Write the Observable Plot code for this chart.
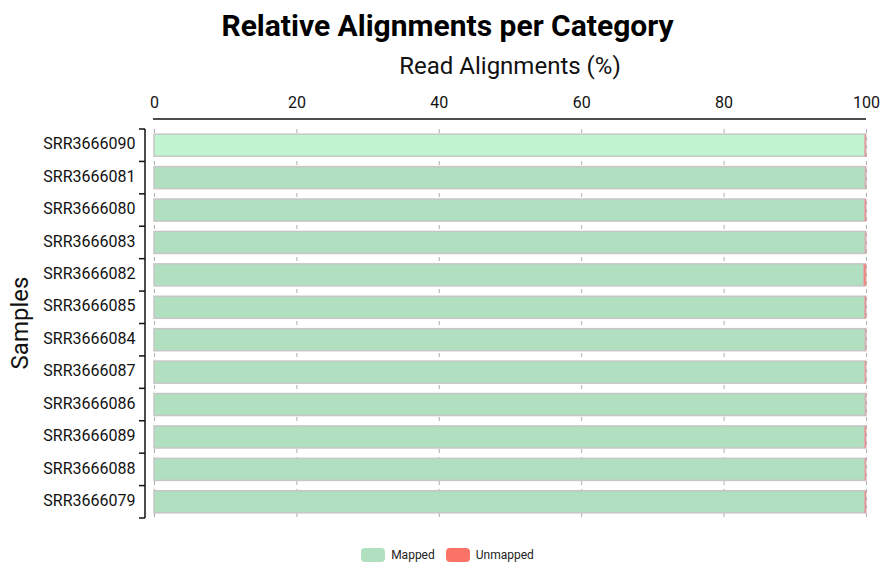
<!DOCTYPE html>
<html>
<head>
<meta charset="utf-8">
<script src="https://cdn.jsdelivr.net/npm/d3@7"></script>
<script src="https://cdn.jsdelivr.net/npm/@observablehq/plot@0.6"></script>
<style>
  html, body { margin: 0; padding: 0; background: #fff; }
  body { font-family: Roboto, "Noto Sans", sans-serif; color: #111; }
  #wrap { position: relative; width: 895px; height: 569px; overflow: hidden; }
  #title { position: absolute; left: 0; width: 895px; top: 8px; text-align: center; font-weight: bold; font-size: 30px; color: #000; }
  #xlabel { position: absolute; left: 154px; width: 712px; top: 52px; text-align: center; font-size: 24px; color: #111; }
  #ylabel { position: absolute; left: 20px; top: 323px; transform: translate(-50%, -50%) rotate(-90deg); font-size: 24px; white-space: nowrap; color: #111; }
  #legend { position: absolute; left: 0; width: 895px; top: 548px; display: flex; justify-content: center; gap: 11px; font-size: 12px; color: #222; }
  .item { display: flex; align-items: center; gap: 6px; }
  .sw { width: 24px; height: 14px; border-radius: 4px; display: inline-block; }
  #chart { position: absolute; left: 0; top: 0; }
</style>
</head>
<body>
<div id="wrap">
  <div id="chart"></div>
  <div id="title">Relative Alignments per Category</div>
  <div id="xlabel">Read Alignments (%)</div>
  <div id="ylabel">Samples</div>
  <div id="legend"></div>
</div>
<script>
const samples = ["SRR3666090","SRR3666081","SRR3666080","SRR3666083","SRR3666082","SRR3666085","SRR3666084","SRR3666087","SRR3666086","SRR3666089","SRR3666088","SRR3666079"];
const mappedPct = [99.85, 99.9, 99.8, 99.88, 99.7, 99.82, 99.9, 99.85, 99.9, 99.8, 99.85, 99.82];
const unmappedPct = [0.15, 0.1, 0.2, 0.12, 0.3, 0.18, 0.1, 0.15, 0.1, 0.2, 0.15, 0.18];
const xTicks = [0, 20, 40, 60, 80, 100];
const categories = ["Mapped", "Unmapped"];
const colors = ["#b0e0bf", "#fb7267"];
const highlighted = "SRR3666090";
const highlightColor = "#c1f5d1";

const rows = samples.map((s, i) => ({sample: s, mapped: mappedPct[i], unmapped: unmappedPct[i]}));

const padIn = 0.32;
const plot = Plot.plot({
  width: 895,
  height: 569,
  marginTop: 129,
  marginBottom: 51,
  marginLeft: 154,
  marginRight: 29,
  style: {fontFamily: "Roboto, sans-serif", color: "#111", background: "transparent"},
  x: {domain: [0, 100], axis: null},
  y: {domain: samples, paddingInner: padIn, paddingOuter: padIn / 2, round: false, axis: null},
  marks: [
    Plot.gridX(xTicks, {stroke: "#9a9a9a", strokeOpacity: 0.8, strokeDasharray: "4,4", strokeWidth: 1}),
    Plot.axisX({anchor: "top", ticks: xTicks, tickSize: 0, tickPadding: 22, fontSize: 16, label: null, tickFormat: d => String(d)}),
    Plot.axisY({anchor: "left", tickSize: 0, tickPadding: 19, fontSize: 16, dy: -1.5, label: null}),
    Plot.barX(rows, {y: "sample", x1: 0, x2: "mapped", fill: d => d.sample === highlighted ? highlightColor : colors[0], stroke: "#c6c6c6", strokeWidth: 1.5, inset: 0}),
    Plot.barX(rows, {y: "sample", x1: "mapped", x2: d => d.mapped + d.unmapped, fill: colors[1], stroke: "#d8b0b0", strokeWidth: 1, inset: 0})
  ]
});
document.getElementById("chart").appendChild(plot);

// axis lines using the plot's scales
const xs = plot.scale("x"), ys = plot.scale("y");
const svg = d3.select(plot);
const [x0, x1] = xs.range;
const [y0, y1] = ys.range;
svg.append("line").attr("x1", x0 - 1).attr("x2", x1).attr("y1", y0 - 10).attr("y2", y0 - 10)
  .attr("stroke", "#111").attr("stroke-width", 1.5);
const axX = x0 - 9;
svg.append("line").attr("x1", axX).attr("x2", axX).attr("y1", y0).attr("y2", y1)
  .attr("stroke", "#111").attr("stroke-width", 1.5);
const step = (y1 - y0) / samples.length;
for (let i = 0; i <= samples.length; i++) {
  const yy = y0 + i * step;
  svg.append("line").attr("x1", axX - 6).attr("x2", axX).attr("y1", yy).attr("y2", yy)
    .attr("stroke", "#111").attr("stroke-width", 1.5);
}

// legend
const leg = document.getElementById("legend");
categories.forEach((c, i) => {
  const it = document.createElement("div");
  it.className = "item";
  it.innerHTML = `<span class="sw" style="background:${colors[i]}"></span><span>${c}</span>`;
  leg.appendChild(it);
});
</script>
</body>
</html>
